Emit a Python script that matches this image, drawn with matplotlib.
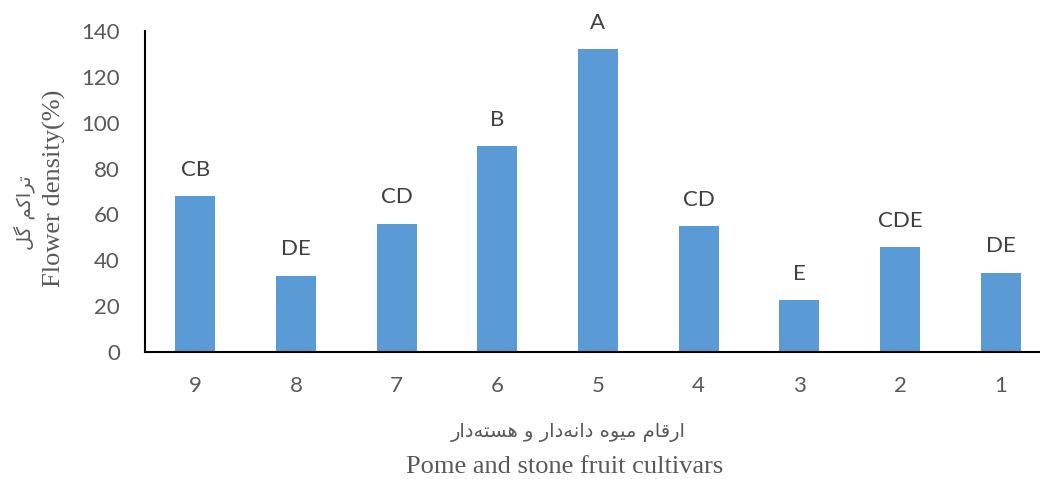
import matplotlib
matplotlib.use("Agg")
import matplotlib.pyplot as plt

# data
cultivars = ["9", "8", "7", "6", "5", "4", "3", "2", "1"]
density = [68, 33.3, 56, 89.7, 132, 54.8, 22.7, 45.6, 34.6]
letters = ["CB", "DE", "CD", "B", "A", "CD", "E", "CDE", "DE"]

y_label_fa = "تراکم گل"
x_label_fa = "ارقام میوه دانه\u200cدار و هسته\u200cدار"

# small persian shaper: matplotlib draws no joined forms and no rtl by itself
# (isolated, final, initial, medial)
FORMS = {
    "ا": (0xFE8D, 0xFE8E, None, None),
    "ر": (0xFEAD, 0xFEAE, None, None),
    "د": (0xFEA9, 0xFEAA, None, None),
    "و": (0xFEED, 0xFEEE, None, None),
    "ت": (0xFE95, 0xFE96, 0xFE97, 0xFE98),
    "ک": (0xFB8E, 0xFB8F, 0xFB90, 0xFB91),
    "م": (0xFEE1, 0xFEE2, 0xFEE3, 0xFEE4),
    "گ": (0xFB92, 0xFB93, 0xFB94, 0xFB95),
    "ل": (0xFEDD, 0xFEDE, 0xFEDF, 0xFEE0),
    "ق": (0xFED5, 0xFED6, 0xFED7, 0xFED8),
    "ی": (0xFBFC, 0xFBFD, 0xFBFE, 0xFBFF),
    "ن": (0xFEE5, 0xFEE6, 0xFEE7, 0xFEE8),
    "ه": (0xFEE9, 0xFEEA, 0xFEEB, 0xFEEC),
    "س": (0xFEB1, 0xFEB2, 0xFEB3, 0xFEB4),
}


def shape(text):
    out = []
    for i, c in enumerate(text):
        if c not in FORMS:
            if c != "\u200c":
                out.append(c)
            continue
        prev = text[i - 1] if i > 0 else None
        nxt = text[i + 1] if i + 1 < len(text) else None
        isol, fin, ini, med = FORMS[c]
        j_prev = prev in FORMS and FORMS[prev][2] is not None
        j_next = nxt in FORMS and ini is not None
        if j_prev and j_next:
            code = med
        elif j_prev:
            code = fin
        elif j_next:
            code = ini
        else:
            code = isol
        out.append(chr(code))
    return "".join(out[::-1])


gray = "#595959"
tick_font = "Lato"
serif = "Liberation Serif"

fig = plt.figure(figsize=(10.4, 4.79), dpi=100)
ax = fig.add_axes([145 / 1040, 1 - 352 / 479, 906 / 1040, 321 / 479])

x = list(range(len(cultivars)))
bars = ax.bar(x, density, width=0.4, color="#5B9BD5")

for b, lab in zip(bars, letters):
    ax.annotate(lab, (b.get_x() + b.get_width() / 2, b.get_height()),
                xytext=(0, 19), textcoords="offset points",
                ha="center", va="center", fontsize=16, family=tick_font,
                color="#404040")

ax.set_xlim(-0.5, len(cultivars) - 0.5)
ax.set_ylim(0, 140)
ax.set_yticks(range(0, 141, 20))
ax.set_xticks(x)
ax.set_xticklabels(cultivars)
ax.tick_params(length=0, labelsize=16, labelcolor=gray)
ax.tick_params(axis="y", pad=18)
ax.tick_params(axis="x", pad=17.5)
for lab in ax.get_xticklabels() + ax.get_yticklabels():
    lab.set_family(tick_font)

ax.spines["top"].set_visible(False)
ax.spines["right"].set_visible(False)
ax.spines["left"].set_linewidth(1.5)
ax.spines["bottom"].set_linewidth(1.5)

fig.text(54 / 1040, 1 - 188 / 479, "Flower density(%)", rotation=90,
         ha="center", va="center", fontsize=19, family=serif, color=gray)
fig.text(25 / 1040, 1 - 213 / 479, shape(y_label_fa), rotation=90,
         ha="center", va="center", fontsize=14, family="DejaVu Sans", color=gray)
fig.text(568 / 1040, 1 - 433 / 479, shape(x_label_fa),
         ha="center", va="center", fontsize=14, family="DejaVu Sans", color=gray)
fig.text(565 / 1040, 1 - 467 / 479, "Pome and stone fruit cultivars",
         ha="center", va="center", fontsize=19, family=serif, color=gray)

fig.savefig("out.png", dpi=100)
